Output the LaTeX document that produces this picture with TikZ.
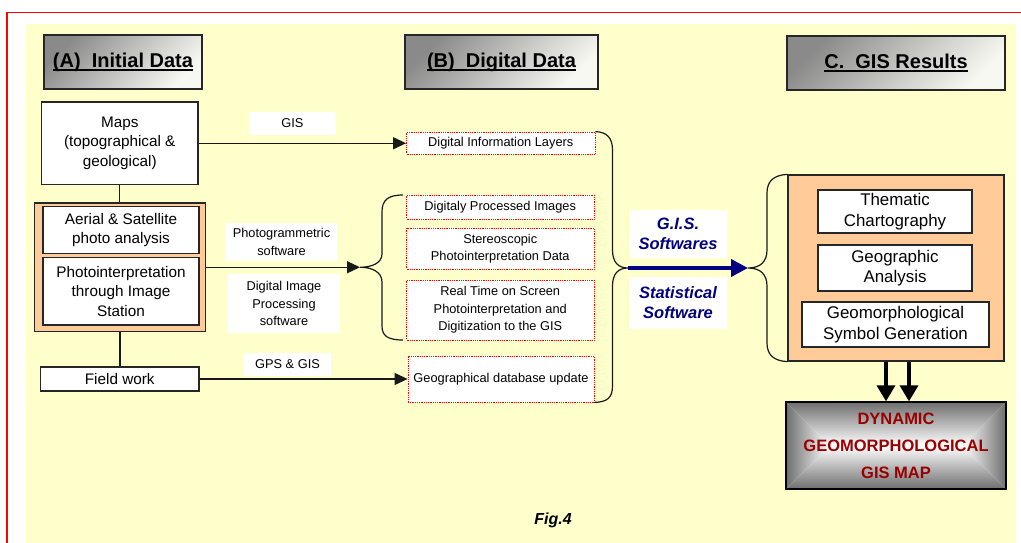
\documentclass[tikz,border=0pt]{standalone}
\usepackage{fontspec}
\setmainfont{Liberation Sans}
\usetikzlibrary{arrows.meta}
\definecolor{bgyel}{HTML}{FFFFCC}
\definecolor{orgfill}{HTML}{FFCC99}
\definecolor{navyb}{HTML}{000080}
\definecolor{dynred}{HTML}{990000}
\definecolor{dkg}{HTML}{6E6E6E}
\definecolor{hdark}{HTML}{8A8A8A}
\definecolor{hlight}{HTML}{F8F8F2}
\newcommand\myul[1]{\setbox0=\hbox{#1}\rlap{\rule[-3.4pt]{\wd0}{2pt}}\box0}
\tikzset{
  hdr/.style={draw=black!85, line width=1.2pt, inner sep=0pt, top color=hdark, bottom color=hlight, shading angle=45, font={\fontsize{20pt}{24pt}\selectfont\bfseries}},
  bigbox/.style={draw=black!85, line width=1.2pt, fill=white, inner sep=0pt, align=center, font={\fontsize{15.3pt}{19.5pt}\selectfont}},
  rbox/.style={draw=black!85, line width=1.2pt, fill=white, inner sep=0pt, align=center, font={\fontsize{16.9pt}{20.5pt}\selectfont}},
  orgbox/.style={draw=black!85, line width=1.2pt, fill=orgfill, inner sep=0pt},
  dbox/.style={draw=red, densely dotted, line width=0.8pt, fill=white, inner sep=0pt, align=center, font={\fontsize{12.8pt}{17.5pt}\selectfont}},
  lbl/.style={fill=white, inner sep=0pt, align=center, font={\fontsize{12.8pt}{17.5pt}\selectfont}},
  blbl/.style={fill=white, inner sep=0pt, align=center, text=navyb, font={\fontsize{16.5pt}{20pt}\selectfont\bfseries\itshape}},
  conn/.style={line width=1.2pt, black!90},
  arr/.style={line width=1.2pt, black!90, -{Triangle[length=13pt,width=12pt]}},
  blarr/.style={line width=4pt, navyb, -{Triangle[length=17pt,width=17pt]}},
  dnarr/.style={line width=3.6pt, black, -{Triangle[length=16pt,width=18pt]}},
  brace/.style={line width=1.2pt, black!90}
}
\begin{document}
\begin{tikzpicture}[x=1pt,y=-1pt]
\useasboundingbox (0,0) rectangle (1021,543);
% background and frame
\fill[bgyel] (26,24) rectangle (1016,543);
\draw[red, line width=1.4pt] (7,543) -- (7,12.7) -- (1021,12.7);

% headers
\node[hdr, minimum width=158pt, minimum height=54pt] (hA) at (123,62) {\myul{(A)\ \ Initial Data}};
\node[hdr, minimum width=193pt, minimum height=54pt] (hB) at (501.5,62) {\myul{(B)\ \ Digital Data}};
\node[hdr, minimum width=218pt, minimum height=54pt] (hC) at (896,63) {\myul{C.\ \ GIS Results}};

% column A
\node[bigbox, minimum width=156.5pt, minimum height=82.5pt] (maps) at (119.75,143.25) {Maps\\(topographical \&\\geological)};
\node[orgbox, minimum width=171pt, minimum height=128.5pt] (orgA) at (120,267.25) {};
\node[bigbox, minimum width=156pt, minimum height=47pt] (aerial) at (121,230) {Aerial \& Satellite\\photo analysis};
\node[bigbox, minimum width=156pt, minimum height=67.5pt] (photoint) at (121,291.25) {Photointerpretation\\through Image\\Station};
\node[bigbox, minimum width=158.5pt, minimum height=24pt] (field) at (119.75,379) {Field work};

% column B
\node[dbox, minimum width=188.5pt, minimum height=22pt] (dil) at (500.75,143) {Digital Information Layers};
\node[dbox, minimum width=187.5pt, minimum height=24pt] (dpi) at (500.25,207) {Digitaly Processed Images};
\node[dbox, minimum width=187.5pt, minimum height=41pt] (stereo) at (500.25,248.5) {Stereoscopic\\Photointerpretation Data};
\node[dbox, minimum width=187.5pt, minimum height=60pt] (rt) at (500.25,310) {Real Time on Screen\\Photointerpretation and\\Digitization to the GIS};
\node[dbox, minimum width=186pt, minimum height=46pt] (geo) at (501,379) {Geographical database update};

% labels between A and B
\node[lbl, minimum width=87pt, minimum height=23pt] (lgis) at (292.5,123.5) {GIS};
\node[lbl, minimum width=111pt, minimum height=38pt] (lphoto) at (281.5,242) {Photogrammetric\\software};
\node[lbl, minimum width=112pt, minimum height=59pt] (ldip) at (284,303.5) {Digital Image\\Processing\\software};
\node[lbl, minimum width=87pt, minimum height=23pt] (lgps) at (287.5,364.5) {GPS \& GIS};

% labels between B and C
\node[blbl, minimum width=98pt, minimum height=48pt] (lgissw) at (678,234) {G.I.S.\\Softwares};
\node[blbl, minimum width=98pt, minimum height=52pt] (lstat) at (678,303) {Statistical\\Software};

% column C
\node[orgbox, minimum width=216pt, minimum height=186pt] (orgC) at (896,268) {};
\node[rbox, minimum width=154pt, minimum height=43pt] (them) at (895,211.5) {Thematic\\Chartography};
\node[rbox, minimum width=154pt, minimum height=46pt] (geoan) at (895,268) {Geographic\\Analysis};
\node[rbox, minimum width=187pt, minimum height=45pt] (geosym) at (895.5,324.5) {Geomorphological\\Symbol Generation};

% dynamic map box with rectangular gradient
\shade[left color=dkg, right color=white] (786,402) -- (829.5,445.5) -- (786,489) -- cycle;
\shade[left color=white, right color=dkg] (1006,402) -- (962.5,445.5) -- (1006,489) -- cycle;
\shade[top color=dkg, bottom color=white] (786,402) -- (1006,402) -- (962.5,445.5) -- (829.5,445.5) -- cycle;
\shade[top color=white, bottom color=dkg] (786,489) -- (1006,489) -- (962.5,445.5) -- (829.5,445.5) -- cycle;
\node[draw=black, line width=1.3pt, minimum width=220pt, minimum height=87pt, inner sep=0pt, align=center, text=dynred, font={\fontsize{16.5pt}{27pt}\selectfont\bfseries}] (dyn) at (896,445.5) {DYNAMIC\\GEOMORPHOLOGICAL\\GIS MAP};

% caption
\node[font={\fontsize{16pt}{18pt}\selectfont\bfseries\itshape}] (fig) at (553,520) {Fig.4};

% brace tip coordinates
\coordinate (bl) at (360,267.25);
\coordinate (br) at (628,268);
\coordinate (bc) at (748,268);

% connectors in column A
\draw[conn] (maps.south) -- (maps.south |- orgA.north);
\draw[conn] (orgA.south) -- (orgA.south |- field.north);

% arrows A -> B
\draw[arr] (maps.east) -- (maps.east -| dil.west);
\draw[arr] (orgA.east) -- (bl);
\draw[arr] (field.east) -- (geo.west);

% braces
\draw[brace] (403,195) .. controls (388,195) and (382,200) .. (382,212) -- (382,254)
  .. controls (382,263) and (372,267.25) .. (bl)
  .. controls (372,267.25) and (382,272) .. (382,282) -- (382,326)
  .. controls (382,336) and (388,340) .. (403,340);
\draw[brace] (dil.north east) .. controls (607,132) and (612.5,138) .. (612.5,150) -- (612.5,250)
  .. controls (612.5,262) and (618,268) .. (br)
  .. controls (618,268) and (612.5,274) .. (612.5,286) -- (612.5,386)
  .. controls (612.5,398) and (607,402) .. (geo.south east);
\draw[brace] (orgC.north west) .. controls (774,175) and (767,181) .. (767,193) -- (767,250)
  .. controls (767,262) and (760,268) .. (bc)
  .. controls (760,268) and (767,274) .. (767,286) -- (767,343)
  .. controls (767,355) and (774,361) .. (orgC.south west);

% blue arrow
\draw[blarr] (br) -- (bc);

% down arrows
\draw[dnarr] ([xshift=-10pt]orgC.south) -- ([xshift=-10pt]dyn.north);
\draw[dnarr] ([xshift=13pt]orgC.south) -- ([xshift=13pt]dyn.north);
\end{tikzpicture}
\end{document}
